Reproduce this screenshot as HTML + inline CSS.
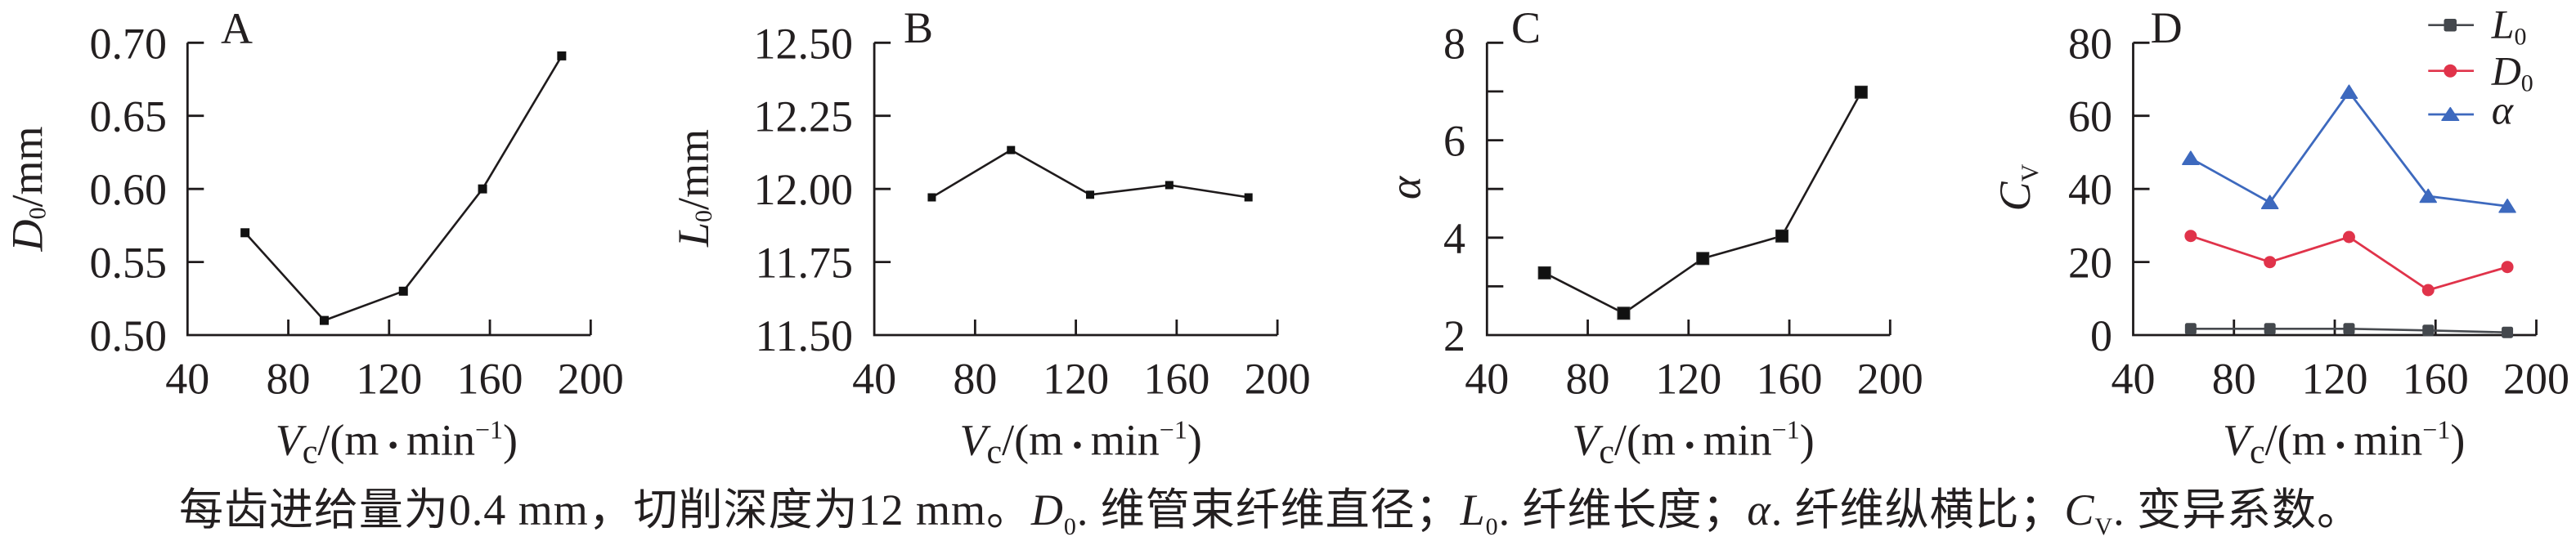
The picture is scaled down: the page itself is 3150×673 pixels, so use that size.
<!DOCTYPE html>
<html>
<head>
<meta charset="utf-8">
<style>
  html, body { margin: 0; padding: 0; background: #ffffff; }
  body { width: 3150px; height: 673px; overflow: hidden; position: relative; }
  svg { position: absolute; left: 0; top: 0; }
  text { font-family: "Liberation Serif", "Noto Sans CJK SC", serif; fill: #231f20; }
  .cap { font-family: "Liberation Serif", "Noto Sans CJK SC", sans-serif; }
  .ax { fill: none; stroke: #1f1b1c; stroke-width: 2.8; stroke-linejoin: miter; }
  .dl { fill: none; stroke: #1f1b1c; stroke-width: 2.6; stroke-linejoin: round; }
</style>
</head>
<body>
<svg width="3150" height="673" viewBox="0 0 3150 673" xmlns="http://www.w3.org/2000/svg">

  <!-- ================= Panel A ================= -->
  <path class="ax" d="M229.3 52.3 V410 H722.3"/>
  <path class="ax" d="M229.3 52.3 H249.3 M229.3 141.7 H249.3 M229.3 231.2 H249.3 M229.3 320.6 H249.3
                      M352.55 410 V391 M475.8 410 V391 M599.05 410 V391 M722.3 410 V391"/>
  <g font-size="54" text-anchor="end">
    <text x="204" y="71.3">0.70</text>
    <text x="204" y="160.7">0.65</text>
    <text x="204" y="250.2">0.60</text>
    <text x="204" y="339.6">0.55</text>
    <text x="204" y="429">0.50</text>
  </g>
  <g font-size="54" text-anchor="middle">
    <text x="229.3" y="481.5">40</text>
    <text x="352.55" y="481.5">80</text>
    <text x="475.8" y="481.5">120</text>
    <text x="599.05" y="481.5">160</text>
    <text x="722.3" y="481.5">200</text>
  </g>
  <text x="270" y="53" font-size="54">A</text>
  <text transform="translate(51.7,231) rotate(-90)" font-size="54" text-anchor="middle"><tspan font-style="italic">D</tspan><tspan font-size="30" dy="4">0</tspan><tspan dy="-4">/mm</tspan></text>
  <text x="336.7" y="556.7" font-size="54"><tspan font-style="italic">V</tspan><tspan font-size="42" dy="10">c</tspan><tspan dy="-10">/(m</tspan><tspan font-size="36" dx="11">•</tspan><tspan dx="10">min</tspan><tspan font-size="32" dy="-20">−1</tspan><tspan dy="20">)</tspan></text>
  <polyline class="dl" points="299.65,284.8 396.46,392.1 493.24,356.3 590.05,231.15 686.87,68.4"/>
  <g fill="#111">
    <rect x="294.15" y="279.3" width="11" height="11"/>
    <rect x="390.96" y="386.6" width="11" height="11"/>
    <rect x="487.74" y="350.8" width="11" height="11"/>
    <rect x="584.55" y="225.65" width="11" height="11"/>
    <rect x="681.37" y="62.9" width="11" height="11"/>
  </g>

  <!-- ================= Panel B ================= -->
  <path class="ax" d="M1069.1 52.3 V410 H1562.1"/>
  <path class="ax" d="M1069.1 52.3 H1089.1 M1069.1 141.7 H1089.1 M1069.1 231.2 H1089.1 M1069.1 320.6 H1089.1
                      M1192.35 410 V391 M1315.6 410 V391 M1438.85 410 V391 M1562.1 410 V391"/>
  <g font-size="54" text-anchor="end">
    <text x="1043" y="71.3">12.50</text>
    <text x="1043" y="160.7">12.25</text>
    <text x="1043" y="250.2">12.00</text>
    <text x="1043" y="339.6">11.75</text>
    <text x="1043" y="429">11.50</text>
  </g>
  <g font-size="54" text-anchor="middle">
    <text x="1069.1" y="481.5">40</text>
    <text x="1192.35" y="481.5">80</text>
    <text x="1315.6" y="481.5">120</text>
    <text x="1438.85" y="481.5">160</text>
    <text x="1562.1" y="481.5">200</text>
  </g>
  <text x="1105" y="52" font-size="54">B</text>
  <text transform="translate(866,230) rotate(-90)" font-size="54" text-anchor="middle"><tspan font-style="italic">L</tspan><tspan font-size="30" dy="4">0</tspan><tspan dy="-4">/mm</tspan></text>
  <text x="1173.5" y="556.7" font-size="54"><tspan font-style="italic">V</tspan><tspan font-size="42" dy="10">c</tspan><tspan dy="-10">/(m</tspan><tspan font-size="36" dx="11">•</tspan><tspan dx="10">min</tspan><tspan font-size="32" dy="-20">−1</tspan><tspan dy="20">)</tspan></text>
  <polyline class="dl" points="1139.45,241.5 1236.26,183.6 1333.04,238.3 1429.85,226.5 1526.67,241.5"/>
  <g fill="#111">
    <rect x="1134.45" y="236.5" width="10" height="10"/>
    <rect x="1231.26" y="178.6" width="10" height="10"/>
    <rect x="1328.04" y="233.3" width="10" height="10"/>
    <rect x="1424.85" y="221.5" width="10" height="10"/>
    <rect x="1521.67" y="236.5" width="10" height="10"/>
  </g>

  <!-- ================= Panel C ================= -->
  <path class="ax" d="M1818.3 52.3 V410 H2311.3"/>
  <path class="ax" d="M1818.3 52.3 H1838.3 M1818.3 111.9 H1838.3 M1818.3 171.6 H1838.3 M1818.3 231.2 H1838.3
                      M1818.3 290.8 H1838.3 M1818.3 350.4 H1838.3
                      M1941.55 410 V391 M2064.8 410 V391 M2188.05 410 V391 M2311.3 410 V391"/>
  <g font-size="54" text-anchor="end">
    <text x="1792" y="71.3">8</text>
    <text x="1792" y="190.6">6</text>
    <text x="1792" y="309.8">4</text>
    <text x="1792" y="429">2</text>
  </g>
  <g font-size="54" text-anchor="middle">
    <text x="1818.3" y="481.5">40</text>
    <text x="1941.55" y="481.5">80</text>
    <text x="2064.8" y="481.5">120</text>
    <text x="2188.05" y="481.5">160</text>
    <text x="2311.3" y="481.5">200</text>
  </g>
  <text x="1848" y="52" font-size="54">C</text>
  <text transform="translate(1736.7,230) rotate(-90)" font-size="54" text-anchor="middle" font-style="italic">α</text>
  <text x="1922.4" y="556.7" font-size="54"><tspan font-style="italic">V</tspan><tspan font-size="42" dy="10">c</tspan><tspan dy="-10">/(m</tspan><tspan font-size="36" dx="11">•</tspan><tspan dx="10">min</tspan><tspan font-size="32" dy="-20">−1</tspan><tspan dy="20">)</tspan></text>
  <polyline class="dl" points="1888.65,333.9 1985.46,383.3 2082.24,316.3 2179.05,288.8 2275.87,112.8"/>
  <g fill="#111" stroke="#333" stroke-width="1">
    <rect x="1881.15" y="326.4" width="15" height="15"/>
    <rect x="1977.96" y="375.8" width="15" height="15"/>
    <rect x="2074.74" y="308.8" width="15" height="15"/>
    <rect x="2171.55" y="281.3" width="15" height="15"/>
    <rect x="2268.37" y="105.3" width="15" height="15"/>
  </g>

  <!-- ================= Panel D ================= -->
  <path class="ax" d="M2608.5 52.3 V410 H3101.5"/>
  <path class="ax" d="M2608.5 52.3 H2628.5 M2608.5 141.7 H2628.5 M2608.5 231.2 H2628.5 M2608.5 320.6 H2628.5
                      M2731.75 410 V391 M2855 410 V391 M2978.25 410 V391 M3101.5 410 V391"/>
  <g font-size="54" text-anchor="end">
    <text x="2583" y="71.3">80</text>
    <text x="2583" y="160.7">60</text>
    <text x="2583" y="250.2">40</text>
    <text x="2583" y="339.6">20</text>
    <text x="2583" y="429">0</text>
  </g>
  <g font-size="54" text-anchor="middle">
    <text x="2608.5" y="481.5">40</text>
    <text x="2731.75" y="481.5">80</text>
    <text x="2855" y="481.5">120</text>
    <text x="2978.25" y="481.5">160</text>
    <text x="3101.5" y="481.5">200</text>
  </g>
  <text x="2629.6" y="52" font-size="54">D</text>
  <text transform="translate(2482,229.6) rotate(-90)" font-size="54" text-anchor="middle"><tspan font-style="italic">C</tspan><tspan font-size="30" dy="10">V</tspan></text>
  <text x="2718" y="556.7" font-size="54"><tspan font-style="italic">V</tspan><tspan font-size="42" dy="10">c</tspan><tspan dy="-10">/(m</tspan><tspan font-size="36" dx="11">•</tspan><tspan dx="10">min</tspan><tspan font-size="32" dy="-20">−1</tspan><tspan dy="20">)</tspan></text>

  <!-- L0 series -->
  <polyline fill="none" stroke="#474a4f" stroke-width="2.6" points="2678.85,402.3 2775.66,402.3 2872.44,402.3 2969.25,404.3 3066.07,406.7"/>
  <g fill="#44484d">
    <rect x="2671.85" y="395.3" width="14" height="14" rx="2.5"/>
    <rect x="2768.66" y="395.3" width="14" height="14" rx="2.5"/>
    <rect x="2865.44" y="395.3" width="14" height="14" rx="2.5"/>
    <rect x="2962.25" y="397.3" width="14" height="14" rx="2.5"/>
    <rect x="3059.07" y="399.7" width="14" height="14" rx="2.5"/>
  </g>
  <!-- D0 series -->
  <polyline fill="none" stroke="#e0334a" stroke-width="2.8" points="2678.85,288.7 2775.66,320.7 2872.44,290 2969.25,355 3066.07,326.7"/>
  <g fill="#e0334a">
    <circle cx="2678.85" cy="288.7" r="7.5"/>
    <circle cx="2775.66" cy="320.7" r="7.5"/>
    <circle cx="2872.44" cy="290" r="7.5"/>
    <circle cx="2969.25" cy="355" r="7.5"/>
    <circle cx="3066.07" cy="326.7" r="7.5"/>
  </g>
  <!-- alpha series -->
  <polyline fill="none" stroke="#3d69be" stroke-width="2.8" points="2678.85,193.7 2775.66,247.7 2872.44,112.7 2969.25,240 3066.07,252.3"/>
  <g fill="#3d69be" stroke="#3d69be" stroke-width="1.5" stroke-linejoin="round">
    <polygon points="2678.85,185.2 2668.85,201.2 2688.85,201.2"/>
    <polygon points="2775.66,239.2 2765.66,255.2 2785.66,255.2"/>
    <polygon points="2872.44,104.2 2862.44,120.2 2882.44,120.2"/>
    <polygon points="2969.25,231.5 2959.25,247.5 2979.25,247.5"/>
    <polygon points="3066.07,243.8 3056.07,259.8 3076.07,259.8"/>
  </g>

  <!-- Legend -->
  <line x1="2969.3" y1="30.7" x2="3025" y2="30.7" stroke="#474a4f" stroke-width="2.7"/>
  <rect x="2988.5" y="23" width="15.5" height="15.5" rx="2.5" fill="#44484d"/>
  <line x1="2969.3" y1="86.7" x2="3025" y2="86.7" stroke="#e0334a" stroke-width="2.7"/>
  <circle cx="2996.3" cy="86.7" r="8" fill="#e0334a"/>
  <line x1="2969.3" y1="140" x2="3025" y2="140" stroke="#3d69be" stroke-width="2.7"/>
  <polygon points="2996.3,131.7 2986,147.3 3006.6,147.3" fill="#3d69be" stroke="#3d69be" stroke-width="1.5" stroke-linejoin="round"/>
  <text x="3046.7" y="46.7" font-size="50"><tspan font-style="italic">L</tspan><tspan font-size="30" dy="8">0</tspan></text>
  <text x="3046.7" y="103.3" font-size="50"><tspan font-style="italic">D</tspan><tspan font-size="30" dy="8">0</tspan></text>
  <text x="3046.7" y="151.7" font-size="50" font-style="italic">α</text>

  <!-- Caption -->
  <text class="cap" x="219" y="642" font-size="54" textLength="2668" lengthAdjust="spacing">每齿进给量为0.4 mm，切削深度为12 mm。<tspan font-style="italic">D</tspan><tspan font-size="30" dy="12">0</tspan><tspan dy="-12">. 维管束纤维直径；</tspan><tspan font-style="italic">L</tspan><tspan font-size="30" dy="12">0</tspan><tspan dy="-12">. 纤维长度；</tspan><tspan font-style="italic">α</tspan><tspan>. 纤维纵横比；</tspan><tspan font-style="italic">C</tspan><tspan font-size="30" dy="12">V</tspan><tspan dy="-12">. 变异系数。</tspan></text>
</svg>
</body>
</html>
